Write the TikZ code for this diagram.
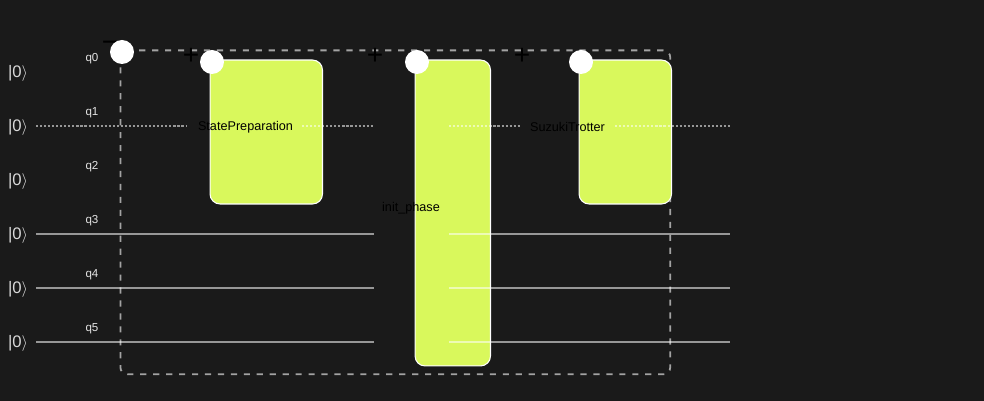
\documentclass[tikz,border=0pt]{standalone}
\usepackage{fontspec}
\setmainfont{Liberation Sans}
\usepackage{xcolor}
\usetikzlibrary{positioning}
\definecolor{canvas}{HTML}{1A1A1A}
\definecolor{gatelime}{HTML}{D9F85C}
\tikzset{
  gatebox/.style={draw=white,line width=0.6pt,fill=gatelime,rounded corners=0.2cm,anchor=north west,inner sep=0pt},
  gatelabel/.style={text=black,inner sep=0pt,font=\fontsize{7.2}{9}\selectfont},
  qlabel/.style={text=white!90!black,inner sep=0pt,font=\fontsize{6.6}{8}\selectfont},
  ketlabel/.style={text=white!85!black,inner sep=0pt,font=\fontsize{9.5}{11}\selectfont},
  corner/.style={circle,fill=white,minimum size=0.48cm,inner sep=0pt},
  signlabel/.style={text=black,inner sep=0pt,font=\fontsize{16}{16}\selectfont},
  wire/.style={white,opacity=0.55,line width=0.95pt},
  dottedwire/.style={wire,dash pattern=on 1.2pt off 1.1pt},
  groupbox/.style={draw=white,draw opacity=0.6,line width=1pt,dash pattern=on 3.5pt off 3.87pt,rounded corners=0.14cm,anchor=north west,inner sep=0pt}
}
\begin{document}
\begin{tikzpicture}[x=0.02cm,y=-0.02cm]
\fill[canvas] (0,0) rectangle (984,401);
\useasboundingbox (0,0) rectangle (984,401);
% outer dashed group
\node[groupbox,minimum width=11cm,minimum height=6.48cm] (group) at (119.5,49.5) {};
% gates
\node[gatebox,minimum width=2.25cm,minimum height=2.88cm] (stateprep) at (209.5,59.5) {};
\node[gatebox,minimum width=1.51cm,minimum height=6.12cm] (initphase) at (414.5,59.5) {};
\node[gatebox,minimum width=1.85cm,minimum height=2.88cm] (trotter) at (578.5,59.5) {};
% qubit labels
\foreach \i/\y in {0/72,1/126,2/180,3/234,4/288,5/342}{
  \node[ketlabel] (ket\i) at (18,{\y+1.2}) {|0$\rangle$};
  \node[qlabel] (q\i) at (92,{\y-13.3}) {q\i};
}
% wires
\foreach \i/\y in {3/234,4/288,5/342}{
  \coordinate (a\i) at (36,\y);
  \coordinate (b\i) at (373.5,\y);
  \coordinate (c\i) at (449,\y);
  \coordinate (d\i) at (730,\y);
  \draw[wire] (a\i) -- (b\i);
  \draw[wire] (c\i) -- (d\i);
}
\coordinate (a1) at (36,126);
\coordinate (b1) at (187,126);
\coordinate (c1) at (302,126);
\coordinate (d1) at (373.5,126);
\coordinate (e1) at (449,126);
\coordinate (f1) at (521,126);
\coordinate (g1) at (615,126);
\coordinate (h1) at (730,126);
\draw[dottedwire] (a1) -- (b1);
\draw[dottedwire] (c1) -- (d1);
\draw[dottedwire] (e1) -- (f1);
\draw[dottedwire] (g1) -- (h1);
% gate names
\node[gatelabel] (spname) at (245.5,127) {StatePreparation};
\node[gatelabel] (ipname) at (411,208) {init\_phase};
\node[gatelabel] (stname) at (567.5,127) {SuzukiTrotter};
% signs and handles
\node[signlabel] (minus) at (110,46.5) {\symbol{"2212}};
\node[signlabel] (plusa) at (191,56) {+};
\node[signlabel] (plusb) at (375,56) {+};
\node[signlabel] (plusc) at (522,56) {+};
\node[corner] (handle) at (122,52) {};
\node[corner] (handlea) at (212,62) {};
\node[corner] (handleb) at (417,62) {};
\node[corner] (handlec) at (581,62) {};
\end{tikzpicture}
\end{document}
